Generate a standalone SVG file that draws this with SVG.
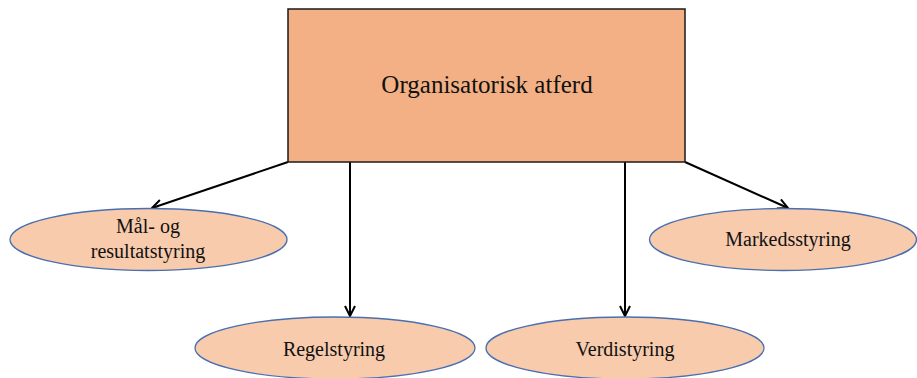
<svg xmlns="http://www.w3.org/2000/svg" width="917" height="378" viewBox="0 0 917 378">
<style>
.t{font-family:"Liberation Serif","Times New Roman",serif;fill:#111;text-anchor:middle}
.e{fill:#F7CBAC;stroke:#4A6FB0;stroke-width:1.3}
.c{stroke:#000;stroke-width:2;fill:none;marker-end:url(#a)}
</style>
<defs>
<marker id="a" viewBox="0 0 12 12" refX="11" refY="6" markerWidth="12" markerHeight="12" markerUnits="userSpaceOnUse" orient="auto">
<path d="M1,1 L11,6 L1,11" fill="none" stroke="#000" stroke-width="2"/>
</marker>
</defs>
<rect width="917" height="378" fill="#fff"/>
<g id="connectors">
<path class="c" d="M288,162 L152,208"/>
<path class="c" d="M350,162 L350,316"/>
<path class="c" d="M625,162 L625,316"/>
<path class="c" d="M685,162 L788,208"/>
</g>
<g id="root">
<rect x="288" y="9" width="397" height="153" fill="#F2B084" stroke="#1a1a1a" stroke-width="1.5"/>
<text class="t" x="487" y="93" font-size="25">Organisatorisk atferd</text>
</g>
<g id="maal">
<ellipse class="e" cx="148.5" cy="239.5" rx="138.5" ry="31"/>
<text class="t" x="148" y="233" font-size="20">Mål- og</text>
<text class="t" x="148" y="258" font-size="20">resultatstyring</text>
</g>
<g id="marked">
<ellipse class="e" cx="783" cy="239.5" rx="133.5" ry="31"/>
<text class="t" x="788" y="246" font-size="20">Markedsstyring</text>
</g>
<g id="regel">
<ellipse class="e" cx="335" cy="348" rx="140" ry="31"/>
<text class="t" x="334" y="356" font-size="20">Regelstyring</text>
</g>
<g id="verdi">
<ellipse class="e" cx="625" cy="348" rx="139" ry="31"/>
<text class="t" x="625" y="356" font-size="20">Verdistyring</text>
</g>
</svg>
